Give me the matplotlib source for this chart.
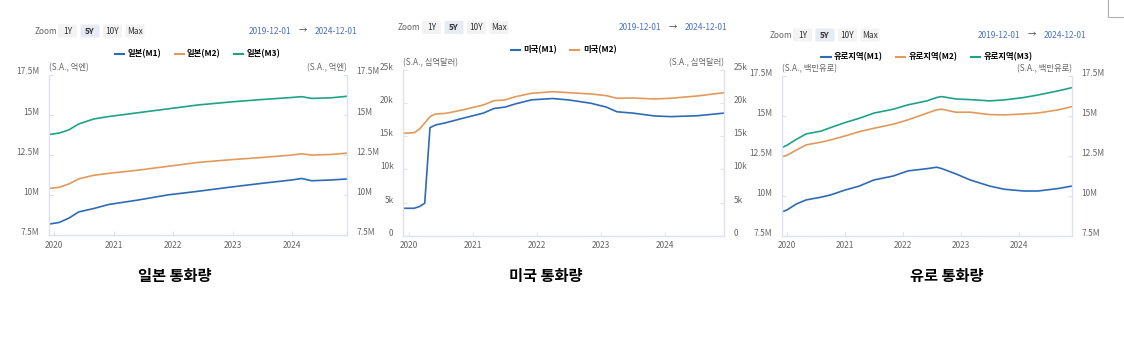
import matplotlib
matplotlib.use("Agg")
import matplotlib.pyplot as plt
import matplotlib.dates as mdates
import matplotlib.transforms as mtransforms
import pandas as pd
from matplotlib.patches import FancyBboxPatch
from matplotlib.lines import Line2D

plt.rcParams['font.family'] = ['Noto Sans CJK KR', 'DejaVu Sans']

W, H = 1124, 337

# 일본 통화량 (S.A., 억엔) -- 단위 M
jp_dates = ["2019-12", "2020-02", "2020-04", "2020-06", "2020-09", "2020-12",
            "2021-06", "2021-12", "2022-06", "2023-01", "2023-07", "2024-01",
            "2024-03", "2024-05", "2024-09", "2024-12"]
jp_m1 = [8.18, 8.28, 8.55, 8.94, 9.15, 9.40, 9.68, 10.00, 10.22, 10.50, 10.72,
         10.93, 11.02, 10.88, 10.93, 10.99]
jp_m2 = [10.40, 10.47, 10.68, 11.00, 11.22, 11.34, 11.54, 11.78, 12.02, 12.20,
         12.33, 12.48, 12.56, 12.48, 12.52, 12.60]
jp_m3 = [13.76, 13.85, 14.05, 14.42, 14.73, 14.88, 15.12, 15.36, 15.60, 15.80,
         15.94, 16.07, 16.12, 16.01, 16.05, 16.14]

# 미국 통화량 (S.A., 십억달러) -- 단위 k
us_dates = ["2019-12", "2020-02", "2020-03", "2020-04", "2020-05", "2020-06",
            "2020-08", "2020-11", "2021-03", "2021-05", "2021-07", "2021-09",
            "2021-12", "2022-04", "2022-07", "2022-11", "2023-02", "2023-04",
            "2023-07", "2023-11", "2024-02", "2024-07", "2024-12"]
us_m1 = [4.15, 4.15, 4.40, 4.90, 16.30, 16.70, 17.06, 17.70, 18.50, 19.20, 19.40,
         19.90, 20.50, 20.70, 20.48, 20.00, 19.40, 18.70, 18.50, 18.07, 17.97,
         18.10, 18.50]
us_m2 = [15.46, 15.55, 16.06, 17.00, 17.96, 18.37, 18.47, 18.97, 19.73, 20.38,
         20.48, 20.98, 21.49, 21.73, 21.58, 21.39, 21.13, 20.74, 20.78, 20.63,
         20.74, 21.08, 21.58]

# 유로 통화량 (S.A., 백만유로) -- 단위 M
eu_dates = ["2019-12", "2020-01", "2020-03", "2020-05", "2020-08", "2020-10",
            "2021-01", "2021-04", "2021-07", "2021-11", "2022-02", "2022-06",
            "2022-08", "2022-09", "2022-12", "2023-03", "2023-07", "2023-10",
            "2024-02", "2024-05", "2024-09", "2024-12"]
eu_m1 = [8.99, 9.10, 9.48, 9.73, 9.90, 10.04, 10.35, 10.60, 10.98, 11.23, 11.55,
         11.69, 11.78, 11.70, 11.36, 10.98, 10.60, 10.40, 10.29, 10.29, 10.44, 10.60]
eu_m2 = [12.44, 12.53, 12.86, 13.18, 13.35, 13.49, 13.74, 14.01, 14.22, 14.48,
         14.75, 15.17, 15.38, 15.42, 15.23, 15.23, 15.08, 15.06, 15.12, 15.18,
         15.37, 15.58]
eu_m3 = [13.01, 13.16, 13.53, 13.87, 14.04, 14.26, 14.58, 14.85, 15.17, 15.42,
         15.69, 15.94, 16.15, 16.21, 16.06, 16.02, 15.94, 16.00, 16.15, 16.31,
         16.56, 16.77]

m_ticks = [7.5, 10, 12.5, 15, 17.5]
m_labels = ["7.5M", "10M", "12.5M", "15M", "17.5M"]
k_ticks = [0, 5, 10, 15, 20, 25]
k_labels = ["0", "5k", "10k", "15k", "20k", "25k"]
zoom_buttons = ["1Y", "5Y", "10Y", "Max"]
start_date, end_date = "2019-12-01", "2024-12-01"

BLUE, ORANGE, GREEN = "#2e6bb6", "#e2995c", "#1ea387"
GRID = "#dde1f0"
LABEL = "#666666"
DATE_BLUE = "#4a72c4"


def fx(x):
    return x / W


def fy(y):
    return 1 - y / H


fig = plt.figure(figsize=(W / 100, H / 100), dpi=100)
fig.patch.set_facecolor("white")


def draw_panel(box, dates, series, ticks, labels, unit, title, hdr):
    left, right, top, bottom = box
    ax = fig.add_axes([fx(left), fy(bottom), fx(right - left), (bottom - top) / H])
    x = pd.to_datetime(dates)
    for vals, color, name in series:
        ax.plot(x, vals, color=color, lw=1.2, label=name)
    ax.set_xlim(pd.Timestamp(start_date), pd.Timestamp(end_date))
    ax.set_ylim(ticks[0], ticks[-1])
    ax.set_yticks(ticks)
    ax.set_yticklabels(labels)
    ax.xaxis.set_major_locator(mdates.YearLocator())
    ax.xaxis.set_major_formatter(mdates.DateFormatter("%Y"))
    for side in ["left", "right", "bottom"]:
        ax.spines[side].set_color(GRID)
        ax.spines[side].set_linewidth(1.0)
    ax.spines["top"].set_visible(False)
    ax.tick_params(axis="y", direction="in", length=3, color=GRID, labelsize=6,
                   labelcolor=LABEL, pad=7, left=True, right=True,
                   labelleft=True, labelright=True)
    ax.tick_params(axis="x", direction="in", length=3, color=GRID, labelsize=6,
                   labelcolor=LABEL, pad=4)
    # y축 라벨을 눈금보다 살짝 위로
    shift = mtransforms.ScaledTranslation(0, 0.035, fig.dpi_scale_trans)
    for t in ax.yaxis.get_major_ticks():
        t.label1.set_transform(t.label1.get_transform() + shift)
        t.label2.set_transform(t.label2.get_transform() + shift)

    # 단위 표시
    fig.text(fx(left), fy(top - 7), unit, fontsize=6, color=LABEL, ha="left", va="center")
    fig.text(fx(right), fy(top - 7), unit, fontsize=6, color=LABEL, ha="right", va="center")

    # 범례
    center = (left + right) / 2
    fig.legend(handles=[Line2D([], [], color=c, lw=1.5) for _, c, _ in series],
               labels=[n for _, _, n in series], loc="center",
               bbox_to_anchor=(fx(center), fy(hdr["legend_y"])), ncol=len(series),
               frameon=False, handlelength=1.1, handletextpad=0.4, columnspacing=1.6,
               prop={"size": 6, "weight": "bold"})

    # Zoom 버튼
    by = hdr["btn_y"]
    fig.text(fx(hdr["zoom_x"]), fy(by), "Zoom", fontsize=6, color=LABEL, ha="left", va="center")
    bx = hdr["btn_x"]
    for name in zoom_buttons:
        bw = 19
        sel = name == "5Y"
        fig.patches.append(FancyBboxPatch(
            (fx(bx), fy(by + 6.5)), fx(bw), 13 / H,
            boxstyle="round,pad=0,rounding_size=0.002",
            transform=fig.transFigure, facecolor="#e6ebf5" if sel else "#f3f3f3",
            edgecolor="none"))
        fig.text(fx(bx + bw / 2), fy(by), name, fontsize=6, color="#333333",
                 weight="bold" if sel else "normal", ha="center", va="center")
        bx += bw + 3.5

    # 기간 표시
    dx = hdr["date_x"]
    fig.text(fx(dx), fy(by), start_date, fontsize=6, color=DATE_BLUE, ha="left", va="center")
    fig.text(fx(dx + 54), fy(by), "→", fontsize=6, color="#444444", ha="center", va="center")
    fig.text(fx(dx + 108), fy(by), end_date, fontsize=6, color=DATE_BLUE, ha="right", va="center")

    fig.text(fx(hdr["title_x"]), fy(276), title, fontsize=11, weight="bold",
             color="black", ha="center", va="center")
    return ax


draw_panel((49, 346.5, 74.5, 235), jp_dates,
           [(jp_m1, BLUE, "일본(M1)"), (jp_m2, ORANGE, "일본(M2)"), (jp_m3, GREEN, "일본(M3)")],
           m_ticks, m_labels, "(S.A., 억엔)", "일본 통화량",
           dict(legend_y=54, btn_y=31, zoom_x=35, btn_x=58, date_x=249, title_x=175))

draw_panel((403.3, 724, 70, 235.8), us_dates,
           [(us_m1, BLUE, "미국(M1)"), (us_m2, ORANGE, "미국(M2)")],
           k_ticks, k_labels, "(S.A., 십억달러)", "미국 통화량",
           dict(legend_y=50, btn_y=27.5, zoom_x=398, btn_x=422, date_x=619, title_x=546))

draw_panel((782, 1072, 76, 235.5), eu_dates,
           [(eu_m1, BLUE, "유로지역(M1)"), (eu_m2, ORANGE, "유로지역(M2)"), (eu_m3, GREEN, "유로지역(M3)")],
           m_ticks, m_labels, "(S.A., 백만유로)", "유로 통화량",
           dict(legend_y=57, btn_y=35, zoom_x=770, btn_x=793, date_x=978, title_x=947))

# 우측 상단 모서리 표시
fig.lines.append(Line2D([fx(1108), fx(1108)], [fy(0), fy(17)], transform=fig.transFigure,
                        color="#b0b0b0", lw=0.8))
fig.lines.append(Line2D([fx(1108), fx(1124)], [fy(17), fy(17)], transform=fig.transFigure,
                        color="#b0b0b0", lw=0.8))

fig.savefig("out.png", dpi=100)
